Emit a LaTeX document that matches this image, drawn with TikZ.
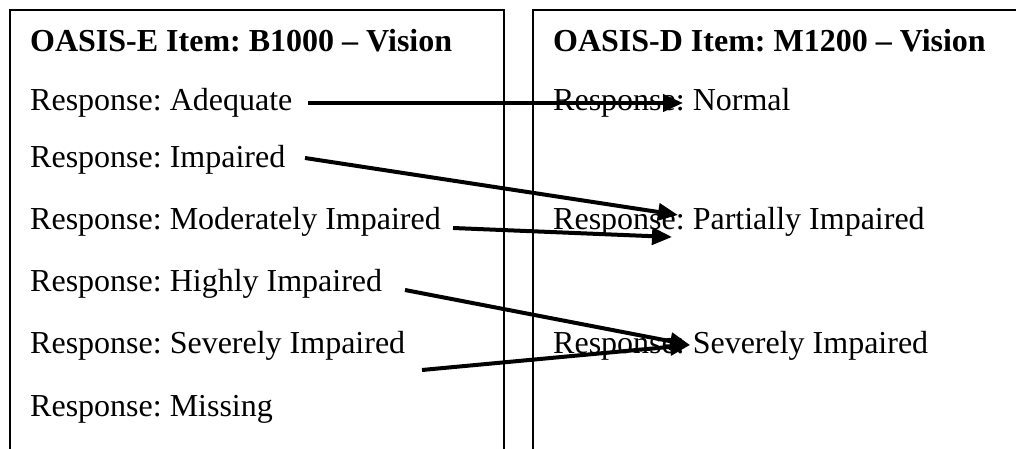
\documentclass[tikz,border=0pt]{standalone}
\usepackage{fontspec}
\setmainfont{Liberation Serif}
\usetikzlibrary{arrows.meta}
\frenchspacing
\begin{document}
\begin{tikzpicture}[x=1bp,y=-1bp,
  txt/.style={anchor=base west,inner sep=0pt,font=\fontsize{32bp}{38bp}\selectfont\frenchspacing},
  ttl/.style={txt,font=\fontsize{32bp}{38bp}\selectfont\bfseries\frenchspacing},
  frame/.style={line width=2bp,line cap=rect},
  conn/.style={line width=4bp,-{Triangle[length=20bp,width=17bp]}}]
\useasboundingbox (0,0) rectangle (1016,449);
% frames
\draw[frame] (10,449) -- (10,10) -- (504,10) -- (504,449);
\draw[frame] (533,449) -- (533,10) -- (1016,10);
% left column
\node[ttl] (lt) at (30,52) {OASIS-E Item: B1000 – Vision};
\node[txt] (l1) at (30,111) {Response: Adequate};
\node[txt] (l2) at (30,168) {Response: Impaired};
\node[txt] (l3) at (30,230) {Response: Moderately Impaired};
\node[txt] (l4) at (30,292) {Response: Highly Impaired};
\node[txt] (l5) at (30,354) {Response: Severely Impaired};
\node[txt] (l6) at (30,416) {Response: Missing};
% right column
\node[ttl] (rt) at (553,52) {OASIS-D Item: M1200 – Vision};
\node[txt] (r1) at (553,111) {Response: Normal};
\node[txt] (r2) at (553,230) {Response: Partially Impaired};
\node[txt] (r3) at (553,354) {Response: Severely Impaired};
% connector end points
\coordinate (a1s) at (308,103);
\coordinate (a1e) at (683,103);
\coordinate (a2s) at (305,158);
\coordinate (a2e) at (678,215);
\coordinate (a3s) at (453,228);
\coordinate (a3e) at (672,237);
\coordinate (a4s) at (405,290);
\coordinate (a4e) at (690,345);
\coordinate (a5s) at (422,370);
\coordinate (a5e) at (690,345);
\draw[conn] (a1s) -- (a1e);
\draw[conn] (a2s) -- (a2e);
\draw[conn] (a3s) -- (a3e);
\draw[conn] (a4s) -- (a4e);
\draw[conn] (a5s) -- (a5e);
\end{tikzpicture}
\end{document}
